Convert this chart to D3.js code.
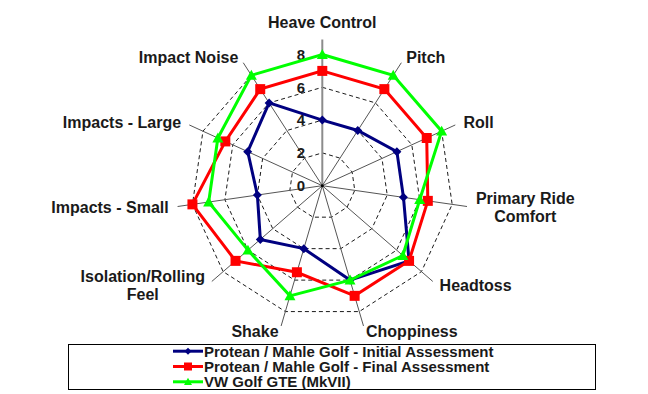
<!DOCTYPE html>
<html>
<head>
<meta charset="utf-8">
<script src="https://cdn.jsdelivr.net/npm/d3@7"></script>
<style>
  body { margin: 0; background: #fff; }
  svg { display: block; font-family: "Liberation Sans", Arial, sans-serif; }
</style>
</head>
<body>
<div id="chart"></div>
<script>
'use strict';

// categories (clockwise from top)
var categories = ['Heave Control', 'Pitch', 'Roll', 'Primary Ride\nComfort', 'Headtoss', 'Choppiness',
    'Shake', 'Isolation/Rolling\nFeel', 'Impacts - Small', 'Impacts - Large', 'Impact Noise']

var initialValues = [4, 4, 5, 5, 7, 6, 4, 5, 4, 5, 6]
var finalValues = [7, 7, 7, 6.5, 7, 7, 5.5, 7, 8, 6.5, 7]
var gteValues = [8, 8, 8, 6, 6.5, 6, 7, 6, 7, 7, 8]

var seriesNames = ['Protean / Mahle Golf - Initial Assessment', 'Protean / Mahle Golf - Final Assessment', 'VW Golf GTE (MkVII)']
var tickValues = [0, 2, 4, 6, 8]

var width = 648,
    height = 394
var cx = 322.3,
    cy = 185.7

var svg = d3.select('#chart').append('svg').attr('width', width).attr('height', height)

var rScale = d3.scaleLinear().domain([0, 8]).range([0, 131.2])
var aScale = d3.scaleLinear().domain([0, categories.length]).range([0, 2 * Math.PI])
var spokeLen = rScale(8) + 15

function px(i, r) { return cx + r * Math.sin(aScale(i)) }
function py(i, r) { return cy - r * Math.cos(aScale(i)) }

var g = svg.append('g')

// dashed rings
tickValues.filter(function(v) { return v > 0 }).forEach(function(v) {
    var pts = categories.map(function(c, i) { return [px(i, rScale(v)), py(i, rScale(v))] })
    g.append('polygon')
        .attr('points', pts.map(function(p) { return p.join(',') }).join(' '))
        .style('fill', 'none')
        .style('stroke', '#000')
        .style('stroke-width', 0.9)
        .style('stroke-dasharray', '4,3')
})

// spokes
categories.forEach(function(c, i) {
    g.append('line')
        .attr('x1', cx).attr('y1', cy)
        .attr('x2', px(i, spokeLen)).attr('y2', py(i, spokeLen))
        .style('stroke', i == 0 ? '#8c8c8c' : '#555')
        .style('stroke-width', i == 0 ? 2 : 1)
})
g.append('circle').attr('cx', cx).attr('cy', cy).attr('r', 1.5).style('fill', '#000')

// category labels
categories.forEach(function(c, i) {
    var a = aScale(i)
    var lines = c.split('\n')
    var x0 = px(i, spokeLen),
        y0 = py(i, spokeLen)
    var t = g.append('text')
        .style('font-size', '16px')
        .style('font-weight', 'bold')
        .style('fill', '#1a1a1a')
        .attr('text-anchor', 'middle')
    lines.forEach(function(l) { t.append('tspan').text(l) })
    var w = d3.max(t.selectAll('tspan').nodes(), function(n) { return n.getComputedTextLength() })
    var s = Math.sin(a)
    var xc, yc
    if (Math.abs(s) < 0.01) {
        xc = x0
        yc = y0 - 17.5
    } else {
        xc = x0 + s * 9 + (s > 0 ? w / 2 : -w / 2)
        yc = y0 - Math.cos(a) * 6
    }
    t.selectAll('tspan')
        .attr('x', xc)
        .attr('y', function(d, j) { return yc - (lines.length - 1) * 9 + 5.7 + j * 18 })
})

// value tick labels
tickValues.forEach(function(v) {
    g.append('text')
        .attr('x', 305)
        .attr('y', cy - rScale(v) + 5.3)
        .attr('text-anchor', 'end')
        .style('font-size', '15px')
        .style('font-weight', 'bold')
        .style('fill', '#1a1a1a')
        .text(v)
})

// markers
function marker(type, size) {
    var h = size / 2
    if (type == 'diamond') return 'M0,' + (-h) + 'L' + h + ',0L0,' + h + 'L' + (-h) + ',0Z'
    if (type == 'square') return 'M' + (-h) + ',' + (-h) + 'H' + h + 'V' + h + 'H' + (-h) + 'Z'
    return 'M0,' + (-h) + 'L' + h + ',' + (h * 0.8) + 'L' + (-h) + ',' + (h * 0.8) + 'Z'
}

var series = [
    { name: seriesNames[0], values: initialValues, color: '#000080', shape: 'diamond', size: 9, lsize: 7 },
    { name: seriesNames[1], values: finalValues, color: '#ff0000', shape: 'square', size: 10, lsize: 8 },
    { name: seriesNames[2], values: gteValues, color: '#00ff00', shape: 'triangle', size: 11, lsize: 8 }
]

var radial = d3.lineRadial()
    .angle(function(d, i) { return aScale(i) })
    .radius(function(d) { return rScale(d) })
    .curve(d3.curveLinearClosed)

series.forEach(function(s) {
    var sg = g.append('g').attr('transform', 'translate(' + cx + ',' + cy + ')')
    sg.append('path')
        .attr('d', radial(s.values))
        .style('fill', 'none')
        .style('stroke', s.color)
        .style('stroke-width', 3)
        .style('stroke-linejoin', 'miter')
    sg.selectAll('.m')
        .data(s.values)
        .enter().append('path')
        .attr('transform', function(d, i) { return 'translate(' + (px(i, rScale(d)) - cx) + ',' + (py(i, rScale(d)) - cy) + ')' })
        .attr('d', marker(s.shape, s.size))
        .style('fill', s.color)
})

// legend
var lg = svg.append('g')
lg.append('rect')
    .attr('x', 68.5).attr('y', 344.5)
    .attr('width', 527).attr('height', 45)
    .style('fill', '#fff')
    .style('stroke', '#000')
    .style('stroke-width', 1)

series.forEach(function(s, i) {
    var y = 351.2 + i * 15.3
    lg.append('line')
        .attr('x1', 173).attr('x2', 203)
        .attr('y1', y).attr('y2', y)
        .style('stroke', s.color)
        .style('stroke-width', 3)
    lg.append('path')
        .attr('transform', 'translate(188,' + y + ')')
        .attr('d', marker(s.shape, s.lsize))
        .style('fill', s.color)
    lg.append('text')
        .attr('x', 204)
        .attr('y', y + 5.4)
        .style('font-size', '15px')
        .style('font-weight', 'bold')
        .style('fill', '#1a1a1a')
        .text(s.name)
})
</script>
</body>
</html>
